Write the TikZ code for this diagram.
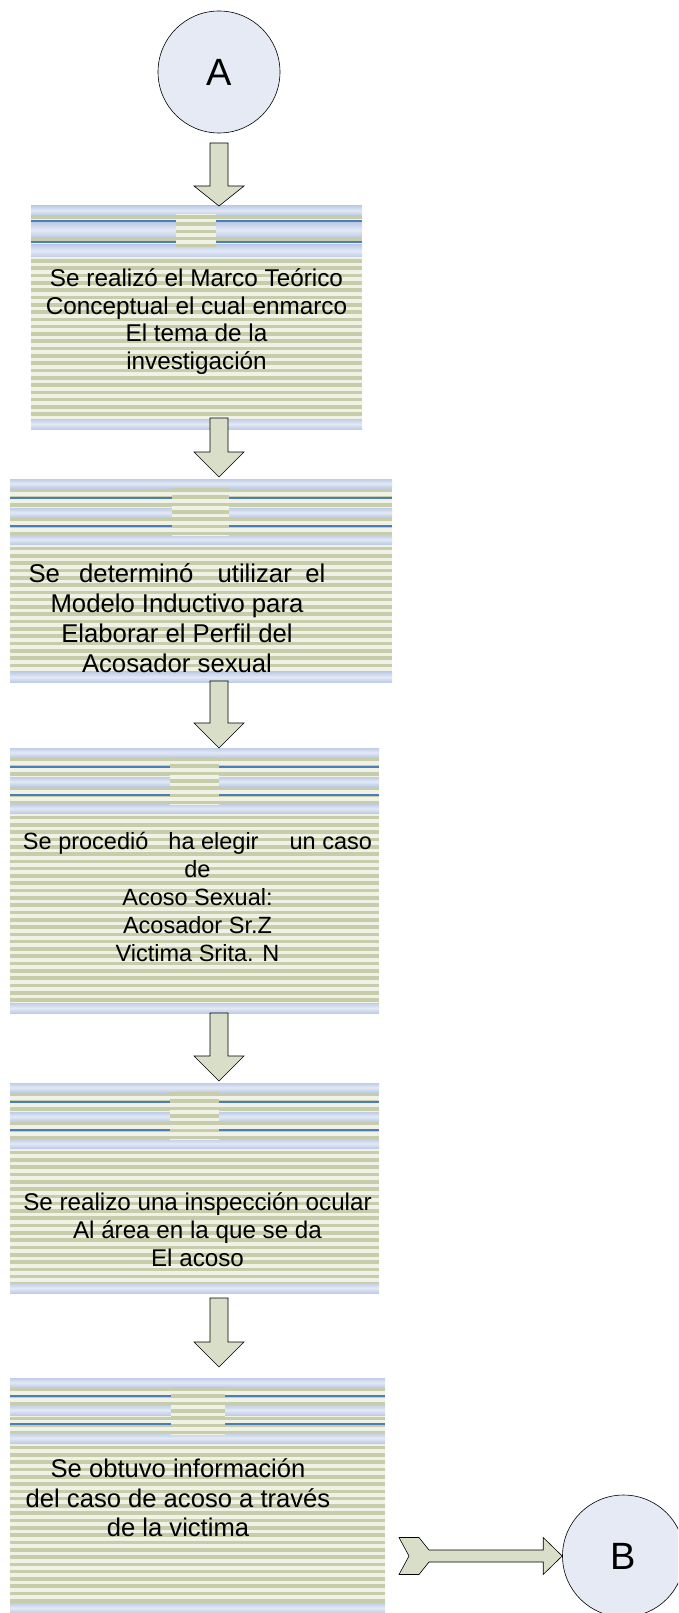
\documentclass[tikz,border=0pt]{standalone}
\usepackage{fontspec}
\setmainfont{Liberation Sans}
\usetikzlibrary{calc}
\definecolor{bA}{HTML}{BFCDE7}
\definecolor{bB}{HTML}{E3E9F5}
\definecolor{bline}{HTML}{4A7EBB}
\definecolor{gD}{HTML}{C7CDAA}
\definecolor{gL}{HTML}{F0F2E6}
\definecolor{arrfill}{HTML}{D9DEC8}
\definecolor{circfill}{HTML}{E6EAF4}
\newcommand{\stripebox}[9]{%
\begin{scope}
\clip (#1,#2) rectangle (#3,#4);
\fill[gL] (#1,#2) rectangle (#3,#4);
\foreach \k in {0,...,38}{\fill[gD] (#1,#2+2+\k*7.3) rectangle (#3,#2+5.6+\k*7.3);}
\foreach \a/\b in {#8}{\shade[top color=bA,bottom color=bA,middle color=bB] (#1,#2+\a) rectangle (#3,#2+\b);}
\shade[top color=bA,bottom color=bA,middle color=bB] (#1,#4-10) rectangle (#3,#4);
\foreach \l in {#9}{\draw[bline,line width=1.2pt] (#1,#2+\l) -- (#3,#2+\l);}
\begin{scope}
\clip (#5,#2+9) rectangle (#6,#2+#7);
\fill[gL] (#5,#2) rectangle (#6,#4);
\foreach \k in {0,...,10}{\fill[gD] (#5,#2+9+\k*7.3) rectangle (#6,#2+12.6+\k*7.3);}
\end{scope}
\end{scope}}
\newcommand{\blockdown}[3]{%
\draw[blockarr] let \p1=(#1), \p2=(#2) in
 (\x1-9pt,\y1) -- (\x1+9pt,\y1) -- (\x1+9pt,\y2+#3pt) -- (\x1+25pt,\y2+#3pt)
 -- (\x1,\y2) -- (\x1-25pt,\y2+#3pt) -- (\x1-9pt,\y2+#3pt) -- cycle;}
\tikzset{
 circ/.style={circle, draw=black, line width=0.6pt, fill=circfill, minimum size=122pt, inner sep=0pt, font=\fontsize{38}{40}\selectfont},
 boxnode/.style={inner sep=0pt, anchor=north west},
 blockarr/.style={draw=black, line width=0.6pt, fill=arrfill, line join=miter},
 txt/.style={anchor=base, inner sep=0pt},
 fA/.style={font=\fontsize{24.3}{28}\selectfont},
 fB/.style={font=\fontsize{25.7}{30}\selectfont},
 fC/.style={font=\fontsize{23.5}{28}\selectfont},
 fD/.style={font=\fontsize{24.2}{28}\selectfont},
 fE/.style={font=\fontsize{25.6}{29.5}\selectfont},
}
\begin{document}
\begin{tikzpicture}[x=1pt,y=-1pt]
\useasboundingbox (0,0) rectangle (678,1613);
\clip (0,0) rectangle (678,1613);
\fill[white] (0,0) rectangle (678,1613);
% boxes
\stripebox{31}{206}{362}{429}{176}{216}{41}{0/9,17/31,39/51}{15,36}
\stripebox{10}{479}{392}{682}{172}{229}{56}{0/9,29/38,56/65}{19,47}
\stripebox{10}{748}{379}{1013}{170}{219}{56}{0/9,29/38,56/65}{19,47}
\stripebox{10}{1083}{379}{1293}{170}{219}{56}{0/9,29/38,56/65}{19,47}
\stripebox{10}{1378}{385}{1613}{171}{225}{56}{0/9,27/37,55/65}{18,46}
\node[boxnode, minimum width=331pt, minimum height=223pt] (b1) at (31,206) {};
\node[boxnode, minimum width=382pt, minimum height=203pt] (b2) at (10,479) {};
\node[boxnode, minimum width=369pt, minimum height=265pt] (b3) at (10,748) {};
\node[boxnode, minimum width=369pt, minimum height=210pt] (b4) at (10,1083) {};
\node[boxnode, minimum width=375pt, minimum height=235pt] (b5) at (10,1378) {};
% circles
\node[circ] (A) at (219,72) {A};
\node[circ] (B) at (623.5,1556) {B};
% block arrows
\coordinate (a1s) at (219,143);
\coordinate (a1e) at (A |- b1.north);
\coordinate (a2s) at (219,418);
\coordinate (a2e) at ($(A |- b2.north)+(0,-2)$);
\coordinate (a3s) at (219,681);
\coordinate (a3e) at (A |- b3.north);
\coordinate (a4s) at (219,1013);
\coordinate (a4e) at ($(A |- b4.north)+(0,-2)$);
\coordinate (a5s) at (219,1298);
\coordinate (a5e) at ($(A |- b5.north)+(0,-11)$);
\blockdown{a1s}{a1e}{20}
\blockdown{a2s}{a2e}{25}
\blockdown{a3s}{a3e}{25}
\blockdown{a4s}{a4e}{25}
\blockdown{a5s}{a5e}{25}
\coordinate (c0) at (399,1556);
\draw[blockarr] let \p1=(c0), \p2=(B.west) in
 (\x1,\y1+18.5pt) -- (\x1+20pt,\y1+18.5pt) -- (\x1+30pt,\y1+6pt) -- (\x2-19pt,\y1+6pt)
 -- (\x2-19pt,\y1+18.5pt) -- (\x2,\y2) -- (\x2-19pt,\y1-18.5pt) -- (\x2-19pt,\y1-6pt)
 -- (\x1+30pt,\y1-6pt) -- (\x1+20pt,\y1-18.5pt) -- (\x1,\y1-18.5pt) -- (\x1+10pt,\y1) -- cycle;
% texts box 1
\node[txt,fA] (t11) at (196.5,287) {Se realizó el Marco Teórico};
\node[txt,fA] (t12) at (196.5,314) {Conceptual el cual enmarco};
\node[txt,fA] (t13) at (196.5,341) {El tema de la};
\node[txt,fA] (t14) at (196.5,369) {investigación};
% box 2
\node[txt,fB] (t21) at (177,582) {\makebox[297pt][s]{Se\hspace{\stretch{15}} determinó\hspace{\stretch{21}} utilizar\hspace{\stretch{8}} el}};
\node[txt,fB] (t22) at (177,612) {Modelo Inductivo para};
\node[txt,fB] (t23) at (177,642) {Elaborar el Perfil del};
\node[txt,fB] (t24) at (177,672) {Acosador sexual};
% box 3
\node[txt,fC] (t31) at (197.5,849) {\makebox[349pt][s]{Se procedió\hspace{\stretch{16}} ha elegir\hspace{\stretch{29}} un caso}};
\node[txt,fC] (t32) at (197.5,877) {de};
\node[txt,fC] (t33) at (197.5,905) {Acoso Sexual:};
\node[txt,fC] (t34) at (197.5,933) {Acosador Sr.Z};
\node[txt,fC] (t35) at (197.5,961) {Victima Srita. N};
% box 4
\node[txt,fD] (t41) at (197.5,1210) {Se realizo una inspección ocular};
\node[txt,fD] (t42) at (197.5,1238) {Al área en la que se da};
\node[txt,fD] (t43) at (197.5,1266) {El acoso};
% box 5
\node[txt,fE] (t51) at (178,1477) {Se obtuvo información};
\node[txt,fE] (t52) at (178,1507) {del caso de acoso a través};
\node[txt,fE] (t53) at (178,1536) {de la victima};
\end{tikzpicture}
\end{document}
